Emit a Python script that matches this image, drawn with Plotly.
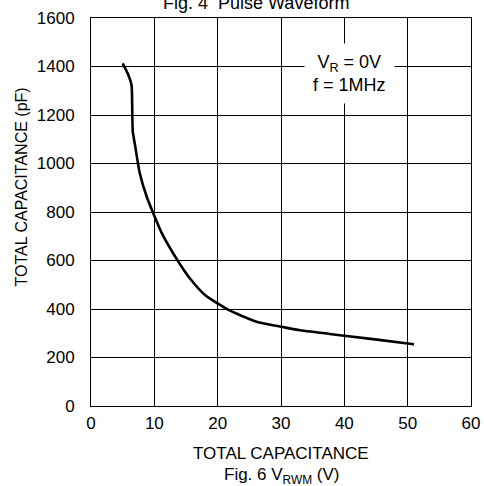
import plotly.graph_objects as go

# Data
voltage = [5.0, 5.9, 6.4, 6.5, 6.6, 6.95, 7.2, 7.7, 8.8, 9.8, 11.2, 13.8, 15.6,
           18.0, 20.0, 21.7, 23.5, 26.4, 30.0, 33.0, 40.0, 50.0, 51.0]
capacitance = [1413, 1365, 1324, 1241, 1131, 1076, 1035, 960, 863, 797, 712, 595, 527,
               458, 423, 396, 375, 345, 327, 312, 290, 258, 254]

x_ticks = [0, 10, 20, 30, 40, 50, 60]
y_ticks = [0, 200, 400, 600, 800, 1000, 1200, 1400, 1600]

FONT = "Liberation Sans, Arial, sans-serif"

fig = go.Figure()
fig.add_trace(go.Scatter(
    x=voltage, y=capacitance, mode="lines",
    line=dict(color="black", width=2.6, shape="spline", smoothing=0.6),
    showlegend=False, hoverinfo="skip",
))

fig.update_layout(
    width=484, height=486,
    margin=dict(l=91, r=13, t=18, b=80, autoexpand=False),
    paper_bgcolor="white", plot_bgcolor="white",
    font=dict(family=FONT, size=17, color="black"),
    xaxis=dict(
        range=[0, 60], tickvals=x_ticks, ticktext=[str(v) for v in x_ticks],
        showgrid=True, gridcolor="black", gridwidth=1,
        showline=True, linecolor="black", linewidth=1, mirror=True,
        ticks="", zeroline=False, ticklabelstandoff=2, automargin=False,
        tickfont=dict(size=17),
    ),
    yaxis=dict(
        range=[0, 1600], tickvals=y_ticks, ticktext=[str(v) for v in y_ticks],
        showgrid=True, gridcolor="black", gridwidth=1,
        showline=True, linecolor="black", linewidth=1, mirror=True,
        ticks="", zeroline=False, ticklabelstandoff=12, automargin=False,
        tickfont=dict(size=17),
    ),
)

# X axis title (two lines)
fig.add_annotation(
    text="TOTAL CAPACITANCE", xref="paper", yref="paper",
    x=0.5, y=0, xanchor="center", yanchor="middle", yshift=-47,
    showarrow=False, font=dict(size=17),
)
fig.add_annotation(
    text="Fig. 6 V<sub>RWM</sub> (V)", xref="paper", yref="paper",
    x=0.5, y=0, xanchor="center", yanchor="middle", yshift=-70,
    showarrow=False, font=dict(size=17),
)

# Y axis title (not centered on plot in reference)
fig.add_annotation(
    text="TOTAL CAPACITANCE (pF)", xref="paper", yref="paper",
    x=0, y=(406 - 187.5) / 388, xanchor="center", yanchor="middle", xshift=-70,
    textangle=-90, showarrow=False, font=dict(size=16),
)

# Condition box
fig.add_annotation(
    text="V<sub>R</sub> = 0V<br>f = 1MHz", xref="x", yref="y",
    x=40.8, y=1370, showarrow=False, bgcolor="white",
    borderpad=8, font=dict(size=18), align="center",
)

# Clipped title at top
fig.add_annotation(
    text="Fig. 4  Pulse Waveform", xref="paper", yref="paper",
    x=0.433, y=1, xanchor="center", yanchor="bottom", yshift=3,
    showarrow=False, font=dict(size=18),
)

fig.write_html(
    "out.html",
    config={"displayModeBar": False},
    post_script="document.body.style.margin='0';document.body.style.padding='0';",
)
